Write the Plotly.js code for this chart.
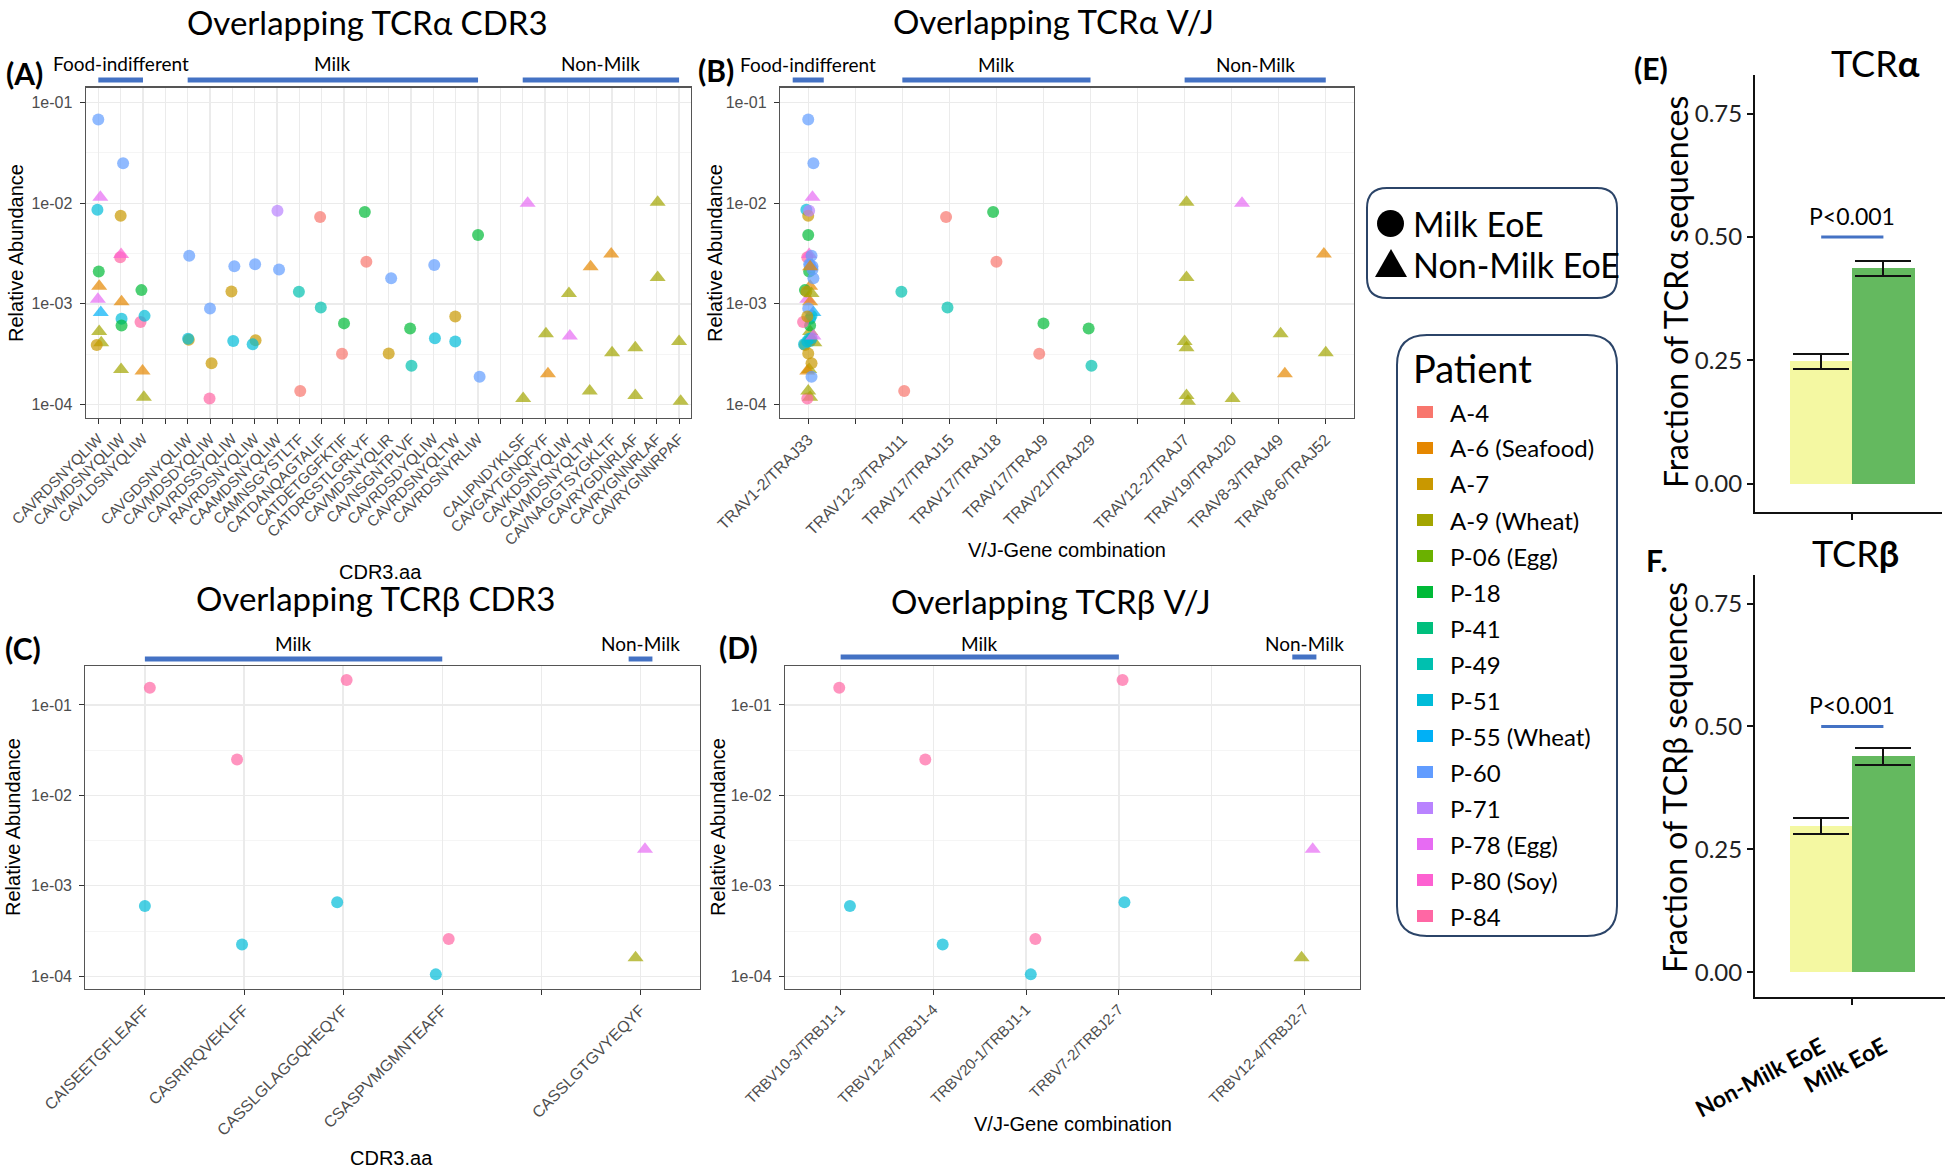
<!DOCTYPE html>
<html><head><meta charset="utf-8">
<script src="https://cdn.plot.ly/plotly-3.0.1.min.js"></script>
<style>html,body{margin:0;padding:0;background:#fff}</style>
</head><body><div id="chart" style="width:1950px;height:1171px"></div>
<script>
// ---------------- data ----------------
const patients = ["A-4","A-6 (Seafood)","A-7","A-9 (Wheat)","P-06 (Egg)","P-18","P-41","P-49","P-51","P-55 (Wheat)","P-60","P-71","P-78 (Egg)","P-80 (Soy)","P-84"];
const patientColors = ["#F8766D","#E58700","#C99800","#A3A500","#6BB100","#00BA38","#00BF7D","#00C0AF","#00BCD8","#00B0F6","#619CFF","#B983FF","#E76BF3","#FD61D1","#FF67A4"];
const patientMilk = [true,false,true,false,false,true,true,true,true,false,true,true,false,false,true];
const eoeTypes = ["Milk EoE","Non-Milk EoE"];

// TCR alpha CDR3 axis (null = empty slot between groups)
const cdr3Alpha = ["CAVRDSNYQLIW","CAVMDSNYQLIW","CAVLDSNYQLIW",null,"CAVGDSNYQLIW","CAVMDSDYQLIW","CAVRDSSYQLIW","RAVRDSNYQLIW","CAAMDSNYQLIW","CAMNSGYSTLTF","CATDANQAGTALIF","CATDETGGFKTIF","CATDRGSTLGRLYF","CAVMDSNYQLIR","CAVNSGNTPLVF","CAVRDSDYQLIW","CAVRDSNYQLTW","CAVRDSNYRLIW",null,"CALIPNDYKLSF","CAVGAYTGNQFYF","CAVKDSNYQLIW","CAVMDSNYQLTW","CAVNAGGTSYGKLTF","CAVRYGDNRLAF","CAVRYGNNRLAF","CAVRYGNNRPAF"];
const vjOfCdr3Alpha = ["TRAV1-2/TRAJ33","TRAV1-2/TRAJ33","TRAV1-2/TRAJ33",null,"TRAV1-2/TRAJ33","TRAV1-2/TRAJ33","TRAV1-2/TRAJ33","TRAV1-2/TRAJ33","TRAV1-2/TRAJ33","TRAV12-3/TRAJ11","TRAV17/TRAJ15","TRAV17/TRAJ9","TRAV17/TRAJ18","TRAV1-2/TRAJ33","TRAV21/TRAJ29","TRAV1-2/TRAJ33","TRAV1-2/TRAJ33","TRAV1-2/TRAJ33",null,"TRAV19/TRAJ20","TRAV8-3/TRAJ49","TRAV1-2/TRAJ33","TRAV1-2/TRAJ33","TRAV8-6/TRAJ52","TRAV12-2/TRAJ7","TRAV12-2/TRAJ7","TRAV12-2/TRAJ7"];
const vjAlpha = ["TRAV1-2/TRAJ33",null,"TRAV12-3/TRAJ11","TRAV17/TRAJ15","TRAV17/TRAJ18","TRAV17/TRAJ9","TRAV21/TRAJ29",null,"TRAV12-2/TRAJ7","TRAV19/TRAJ20","TRAV8-3/TRAJ49","TRAV8-6/TRAJ52"];

const groupNamesAlpha = ["Food-indifferent","Milk","Non-Milk"];
const groupFirstAlphaCdr3 = ["CAVRDSNYQLIW","CAVGDSNYQLIW","CALIPNDYKLSF"];
const groupLastAlphaCdr3  = ["CAVLDSNYQLIW","CAVRDSNYRLIW","CAVRYGNNRPAF"];
const groupFirstAlphaVJ = ["TRAV1-2/TRAJ33","TRAV12-3/TRAJ11","TRAV12-2/TRAJ7"];
const groupLastAlphaVJ  = ["TRAV1-2/TRAJ33","TRAV21/TRAJ29","TRAV8-6/TRAJ52"];

// TCR alpha points
const alphaSeq = ["CAVRDSNYQLIW","CAVRDSNYQLIW","CAVRDSNYQLIW","CAVRDSNYQLIW","CAVRDSNYQLIW","CAVRDSNYQLIW","CAVRDSNYQLIW","CAVRDSNYQLIW","CAVRDSNYQLIW","CAVRDSNYQLIW",
 "CAVMDSNYQLIW","CAVMDSNYQLIW","CAVMDSNYQLIW","CAVMDSNYQLIW","CAVMDSNYQLIW","CAVMDSNYQLIW","CAVMDSNYQLIW","CAVMDSNYQLIW",
 "CAVLDSNYQLIW","CAVLDSNYQLIW","CAVLDSNYQLIW","CAVLDSNYQLIW","CAVLDSNYQLIW",
 "CAVGDSNYQLIW","CAVGDSNYQLIW","CAVGDSNYQLIW","CAVMDSDYQLIW","CAVMDSDYQLIW","CAVMDSDYQLIW",
 "CAVRDSSYQLIW","CAVRDSSYQLIW","CAVRDSSYQLIW","RAVRDSNYQLIW","RAVRDSNYQLIW","RAVRDSNYQLIW",
 "CAAMDSNYQLIW","CAAMDSNYQLIW","CAMNSGYSTLTF","CAMNSGYSTLTF","CATDANQAGTALIF","CATDANQAGTALIF",
 "CATDETGGFKTIF","CATDETGGFKTIF","CATDRGSTLGRLYF","CATDRGSTLGRLYF","CAVMDSNYQLIR","CAVMDSNYQLIR",
 "CAVNSGNTPLVF","CAVNSGNTPLVF","CAVRDSDYQLIW","CAVRDSDYQLIW","CAVRDSNYQLTW","CAVRDSNYQLTW","CAVRDSNYRLIW","CAVRDSNYRLIW",
 "CALIPNDYKLSF","CALIPNDYKLSF","CAVGAYTGNQFYF","CAVGAYTGNQFYF","CAVKDSNYQLIW","CAVKDSNYQLIW","CAVMDSNYQLTW","CAVMDSNYQLTW",
 "CAVNAGGTSYGKLTF","CAVNAGGTSYGKLTF","CAVRYGDNRLAF","CAVRYGDNRLAF","CAVRYGNNRLAF","CAVRYGNNRLAF","CAVRYGNNRPAF","CAVRYGNNRPAF"];
const alphaPatient = ["P-60","P-78 (Egg)","P-51","P-18","A-6 (Seafood)","P-78 (Egg)","P-55 (Wheat)","A-9 (Wheat)","A-9 (Wheat)","A-7",
 "P-60","A-7","P-84","P-80 (Soy)","A-6 (Seafood)","P-51","P-18","A-9 (Wheat)",
 "P-18","P-84","P-51","A-6 (Seafood)","A-9 (Wheat)",
 "P-60","A-7","P-51","P-60","A-7","P-84",
 "P-60","A-7","P-51","P-60","A-7","P-51",
 "P-71","P-60","P-49","A-4","A-4","P-49",
 "P-18","A-4","P-18","A-4","P-60","A-7",
 "P-18","P-49","P-60","P-51","A-7","P-51","P-18","P-60",
 "P-78 (Egg)","A-9 (Wheat)","A-9 (Wheat)","A-6 (Seafood)","A-9 (Wheat)","P-78 (Egg)","A-6 (Seafood)","A-9 (Wheat)",
 "A-6 (Seafood)","A-9 (Wheat)","A-9 (Wheat)","A-9 (Wheat)","A-9 (Wheat)","A-9 (Wheat)","A-9 (Wheat)","A-9 (Wheat)"];
const alphaAbundance = [0.068,0.0115,0.0086,0.0021,0.0015,0.00111,0.00082,0.00053,0.00041,0.00039,
 0.025,0.0075,0.0029,0.0031,0.00105,0.00071,0.00061,0.000223,
 0.00137,0.00066,0.00076,0.000215,0.000118,
 0.0030,0.00044,0.00045,0.0009,0.000257,0.000115,
 0.00236,0.00133,0.000428,0.00247,0.000434,0.000396,
 0.0084,0.0022,0.00132,0.000136,0.0073,0.00092,
 0.00064,0.00032,0.0082,0.00262,0.0018,0.000322,
 0.000568,0.000243,0.00243,0.000455,0.000748,0.000422,0.00483,0.000189,
 0.0100,0.000115,0.000506,0.000202,0.00127,0.00048,0.00234,0.000136,
 0.00313,0.000327,0.000367,0.000123,0.0102,0.00183,0.000422,0.000108];
const alphaJitter = [0,0.09,-0.04,0.02,0.04,-0.02,0.11,0.04,0.13,-0.07,
 0.11,0,-0.02,0.02,0.04,0.04,0.04,0.02,
 -0.07,-0.11,0.07,-0.02,0.04,
 0.07,0.05,0.02,0,0.07,-0.02,
 0.09,-0.04,0.04,0.02,0.04,-0.09,
 0.02,0.09,-0.02,0.04,-0.07,-0.04,
 0,-0.09,-0.07,0,0.11,0,
 -0.04,0.02,0.04,0.07,-0.02,-0.02,0,0.07,
 0.22,0.02,0.04,0.13,0.07,0.11,0.04,0,
 -0.04,0,0.04,0.04,0.04,0.04,0,0.07];

// TCR beta
const cdr3Beta = ["CAISEETGFLEAFF","CASRIRQVEKLFF","CASSLGLAGGQHEQYF","CSASPVMGMNTEAFF",null,"CASSLGTGVYEQYF"];
const vjOfCdr3Beta = ["TRBV10-3/TRBJ1-1","TRBV12-4/TRBJ1-4","TRBV7-2/TRBJ2-7","TRBV20-1/TRBJ1-1",null,"TRBV12-4/TRBJ2-7"];
const vjBeta = ["TRBV10-3/TRBJ1-1","TRBV12-4/TRBJ1-4","TRBV20-1/TRBJ1-1","TRBV7-2/TRBJ2-7",null,"TRBV12-4/TRBJ2-7"];
const groupNamesBeta = ["Milk","Non-Milk"];
const groupFirstBetaCdr3 = ["CAISEETGFLEAFF","CASSLGTGVYEQYF"];
const groupLastBetaCdr3  = ["CSASPVMGMNTEAFF","CASSLGTGVYEQYF"];
const groupFirstBetaVJ = ["TRBV10-3/TRBJ1-1","TRBV12-4/TRBJ2-7"];
const groupLastBetaVJ  = ["TRBV7-2/TRBJ2-7","TRBV12-4/TRBJ2-7"];

const betaSeq = ["CAISEETGFLEAFF","CAISEETGFLEAFF","CASRIRQVEKLFF","CASRIRQVEKLFF","CASSLGLAGGQHEQYF","CASSLGLAGGQHEQYF","CSASPVMGMNTEAFF","CSASPVMGMNTEAFF","CASSLGTGVYEQYF","CASSLGTGVYEQYF"];
const betaPatient = ["P-84","P-51","P-84","P-51","P-84","P-51","P-84","P-51","P-78 (Egg)","A-9 (Wheat)"];
const betaAbundance = [0.155,0.0006,0.0249,0.000225,0.189,0.00066,0.000259,0.000105,0.00254,0.00016];
const betaJitterCdr3 = [0.05,0,-0.07,-0.02,0.035,-0.06,0.065,-0.065,0.045,-0.05];
const betaJitterVJ = [-0.015,0.1,-0.087,0.1,0.04,0.06,0.1,0.05,0.09,-0.03];

// Panels E / F
const eoeGroups = ["Non-Milk EoE","Milk EoE"];
const fractionAlpha = [0.248,0.437];
const errorAlpha = [0.015,0.015];
const fractionBeta = [0.298,0.439];
const errorBeta = [0.016,0.017];
const pValueLabel = "P<0.001";
const pValueLevel = 0.5;
const yTicksFraction = [0,0.25,0.5,0.75];
const yTicksLog = [1e-4,1e-3,1e-2,1e-1];

// ---------------- helpers ----------------
const W = 1950, H = 1171;
const fx = p => p / W;
const fy = p => 1 - p / H;
const LATO = "Lato, 'Open Sans', sans-serif";
const ARIAL = "'Liberation Sans', Arial, sans-serif";
const GROUPBLUE = "#4472C4";

function pointTrace(xs, pats, vals, xa, ya) {
  const ci = pats.map(p => patients.indexOf(p));
  return {
    type: 'scatter', mode: 'markers', x: xs, y: vals, xaxis: xa, yaxis: ya,
    marker: {
      color: ci.map(i => patientColors[i]),
      symbol: ci.map(i => patientMilk[i] ? 'circle' : 'triangle-up'),
      size: ci.map(i => patientMilk[i] ? 12 : 14),
      line: {width: 0}
    },
    hoverinfo: 'skip', showlegend: false, cliponaxis: false
  };
}

function catX(domain, cats, range, fsize) {
  return {
    domain: domain, range: range, tickmode: 'array',
    tickvals: cats.map((c, i) => i), ticktext: cats.map(c => c === null ? '' : c),
    tickangle: -45, tickfont: {family: ARIAL, size: fsize, color: '#4D4D4D'},
    ticks: 'outside', ticklen: 5, tickcolor: '#333', tickwidth: 1,
    showgrid: true, gridcolor: '#EBEBEB', gridwidth: 1.3, zeroline: false,
    showline: true, mirror: true, linecolor: '#555', linewidth: 1.2, fixedrange: true
  };
}
function logY(domain, range) {
  return {
    type: 'log', domain: domain, range: range, tickmode: 'array',
    tickvals: yTicksLog,
    ticktext: yTicksLog.map(v => v.toExponential(0).replace(/e-(\d)$/, 'e-0$1')),
    tickfont: {family: ARIAL, size: 16, color: '#4D4D4D'},
    ticks: 'outside', ticklen: 5, tickcolor: '#333', tickwidth: 1, ticklabelstandoff: 4,
    showgrid: true, gridcolor: '#EBEBEB', gridwidth: 1.3, zeroline: false,
    showline: true, mirror: true, linecolor: '#555', linewidth: 1.2,
    minor: {tickmode: 'array', tickvals: yTicksLog.map(v => v * Math.sqrt(10)), showgrid: true, gridcolor: '#F3F3F3', gridwidth: 0.8, ticks: ''},
    fixedrange: true
  };
}

const annotations = [];
const shapes = [];
function txt(text, xPx, yPx, size, extra) {
  const a = {text: text, x: fx(xPx), y: fy(yPx), xref: 'paper', yref: 'paper', showarrow: false,
    xanchor: 'center', yanchor: 'middle', font: {family: LATO, size: size, color: '#000'}};
  return Object.assign(a, extra || {});
}

function groups(cats, names, first, last, xref, labelYPx, barYPx, singlePad) {
  names.forEach((n, k) => {
    const i0 = cats.indexOf(first[k]), i1 = cats.indexOf(last[k]);
    const pad = (i0 === i1) ? singlePad : 0;
    shapes.push({type: 'line', xref: xref, yref: 'paper', x0: i0 - pad, x1: i1 + pad,
      y0: fy(barYPx), y1: fy(barYPx), line: {color: GROUPBLUE, width: 5}});
    annotations.push({text: n, xref: xref, yref: 'paper', x: (i0 + i1) / 2, y: fy(labelYPx),
      showarrow: false, xanchor: 'center', yanchor: 'middle', font: {family: LATO, size: 19, color: '#000'}});
  });
}

function rrect(x0, y0, x1, y1, r) {
  const X = fx, Y = fy;
  return `M ${X(x0 + r)},${Y(y0)} L ${X(x1 - r)},${Y(y0)} Q ${X(x1)},${Y(y0)} ${X(x1)},${Y(y0 + r)} ` +
    `L ${X(x1)},${Y(y1 - r)} Q ${X(x1)},${Y(y1)} ${X(x1 - r)},${Y(y1)} L ${X(x0 + r)},${Y(y1)} ` +
    `Q ${X(x0)},${Y(y1)} ${X(x0)},${Y(y1 - r)} L ${X(x0)},${Y(y0 + r)} Q ${X(x0)},${Y(y0)} ${X(x0 + r)},${Y(y0)} Z`;
}

// ---------------- traces ----------------
const traces = [];
traces.push(pointTrace(alphaSeq.map((s, i) => cdr3Alpha.indexOf(s) + alphaJitter[i]), alphaPatient, alphaAbundance, 'x', 'y'));
traces.push(pointTrace(alphaSeq.map((s, i) => vjAlpha.indexOf(vjOfCdr3Alpha[cdr3Alpha.indexOf(s)]) + alphaJitter[i]), alphaPatient, alphaAbundance, 'x2', 'y2'));
traces.push(pointTrace(betaSeq.map((s, i) => cdr3Beta.indexOf(s) + betaJitterCdr3[i]), betaPatient, betaAbundance, 'x3', 'y3'));
traces.push(pointTrace(betaSeq.map((s, i) => vjBeta.indexOf(vjOfCdr3Beta[cdr3Beta.indexOf(s)]) + betaJitterVJ[i]), betaPatient, betaAbundance, 'x4', 'y4'));

const barColors = ['#F4F8A2', '#64B95F'];
function barTrace(vals, errs, xa, ya) {
  return {type: 'bar', x: eoeGroups.map((g, i) => i), y: vals, width: 1, xaxis: xa, yaxis: ya,
    marker: {color: barColors, line: {width: 0}},
    error_y: {type: 'data', array: errs, visible: true, color: '#111', thickness: 2, width: 28},
    hoverinfo: 'skip', showlegend: false};
}
traces.push(barTrace(fractionAlpha, errorAlpha, 'x5', 'y5'));
traces.push(barTrace(fractionBeta, errorBeta, 'x6', 'y6'));

// ---------------- annotations / shapes ----------------
// panel titles
annotations.push(txt('Overlapping TCRα CDR3', 367, 22, 33));
annotations.push(txt('Overlapping TCRα V/J', 1053, 21, 33));
annotations.push(txt('Overlapping TCRβ CDR3', 375, 598, 33));
annotations.push(txt('Overlapping TCRβ V/J', 1051, 601, 33));
// panel letters
const bold = s => ({family: LATO, size: s, color: '#000', weight: 'bold'});
annotations.push(txt('(A)', 4, 73, 30, {xanchor: 'left', font: bold(30)}));
annotations.push(txt('(B)', 696, 70, 30, {xanchor: 'left', font: bold(30)}));
annotations.push(txt('(C)', 3, 648, 30, {xanchor: 'left', font: bold(30)}));
annotations.push(txt('(D)', 717, 647, 30, {xanchor: 'left', font: bold(30)}));
annotations.push(txt('(E)', 1632, 68, 30, {xanchor: 'left', font: bold(30)}));
annotations.push(txt('F.', 1644, 560, 30, {xanchor: 'left', font: bold(30)}));
// axis titles
const axFont = {family: ARIAL, size: 20, color: '#000'};
annotations.push(txt('Relative Abundance', 16, 253, 20, {textangle: -90, font: axFont}));
annotations.push(txt('Relative Abundance', 715, 253, 20, {textangle: -90, font: axFont}));
annotations.push(txt('Relative Abundance', 13, 827, 20, {textangle: -90, font: axFont}));
annotations.push(txt('Relative Abundance', 718, 827, 20, {textangle: -90, font: axFont}));
annotations.push(txt('CDR3.aa', 380, 572, 20, {font: axFont}));
annotations.push(txt('V/J-Gene combination', 1067, 550, 20, {font: axFont}));
annotations.push(txt('CDR3.aa', 391, 1158, 20, {font: axFont}));
annotations.push(txt('V/J-Gene combination', 1073, 1124, 20, {font: axFont}));
annotations.push(txt('Fraction of TCRα sequences', 1675, 292, 32, {textangle: -90}));
annotations.push(txt('Fraction of TCRβ sequences', 1675, 778, 32, {textangle: -90}));
annotations.push(txt('TCR<b>α</b>', 1875, 63, 36));
annotations.push(txt('TCR<b>β</b>', 1855, 553, 36));

// group bars
groups(cdr3Alpha, groupNamesAlpha, groupFirstAlphaCdr3, groupLastAlphaCdr3, 'x', 64, 80, 0.3);
groups(vjAlpha, groupNamesAlpha, groupFirstAlphaVJ, groupLastAlphaVJ, 'x2', 65, 80, 0.33);
groups(cdr3Beta, groupNamesBeta, groupFirstBetaCdr3, groupLastBetaCdr3, 'x3', 644, 659, 0.12);
groups(vjBeta, groupNamesBeta, groupFirstBetaVJ, groupLastBetaVJ, 'x4', 643, 657, 0.13);

// significance brackets
[['x5', 'y5'], ['x6', 'y6']].forEach(([xa, ya]) => {
  shapes.push({type: 'line', xref: xa, yref: ya, x0: 0, x1: 1, y0: pValueLevel, y1: pValueLevel, line: {color: GROUPBLUE, width: 3}});
  annotations.push({text: pValueLabel.replace('<', '&lt;'), xref: xa, yref: ya, x: 0.5, y: pValueLevel,
    yanchor: 'bottom', xanchor: 'center', yshift: 5, showarrow: false, font: {family: LATO, size: 23, color: '#000'}});
});

// shape legend
shapes.push({type: 'path', xref: 'paper', yref: 'paper', path: rrect(1367, 188, 1617, 298, 20), line: {color: '#2B4468', width: 2}, fillcolor: 'rgba(0,0,0,0)'});
shapes.push({type: 'circle', xref: 'paper', yref: 'paper', x0: fx(1377), x1: fx(1404), y0: fy(237), y1: fy(210), fillcolor: '#000', line: {width: 0}});
shapes.push({type: 'path', xref: 'paper', yref: 'paper', path: `M ${fx(1375)},${fy(277)} L ${fx(1407)},${fy(277)} L ${fx(1391)},${fy(249)} Z`, fillcolor: '#000', line: {width: 0}});
annotations.push(txt(eoeTypes[0], 1411, 224, 34, {xanchor: 'left'}));
annotations.push(txt(eoeTypes[1], 1411, 264, 34, {xanchor: 'left'}));

// patient legend
shapes.push({type: 'path', xref: 'paper', yref: 'paper', path: rrect(1397, 335, 1617, 936, 30), line: {color: '#2B4468', width: 2}, fillcolor: 'rgba(0,0,0,0)'});
annotations.push(txt('Patient', 1411, 368, 38, {xanchor: 'left'}));
patients.forEach((p, i) => {
  const yc = 412 + i * 36;
  shapes.push({type: 'rect', xref: 'paper', yref: 'paper', x0: fx(1417), x1: fx(1433), y0: fy(yc + 6), y1: fy(yc - 6), fillcolor: patientColors[i], line: {width: 0}});
  annotations.push(txt(p, 1448, yc, 24, {xanchor: 'left'}));
});

// ---------------- layout ----------------
const barX = (domain, range, labels) => ({
  domain: domain, range: range, tickmode: 'array', tickvals: eoeGroups.map((g, i) => i), ticktext: eoeGroups,
  showticklabels: labels, tickangle: -28, tickfont: {family: LATO, size: 23, color: '#000', weight: 'bold'},
  ticklabelstandoff: 26,
  ticks: '', showline: true, linecolor: '#111', linewidth: 2, showgrid: false, zeroline: false,
  minor: {tickmode: 'array', tickvals: [0.5], ticks: 'outside', ticklen: 6, tickwidth: 2, tickcolor: '#111', showgrid: false},
  fixedrange: true
});
const barY = (domain, range) => ({
  domain: domain, range: range, tickmode: 'array', tickvals: yTicksFraction, ticktext: yTicksFraction.map(v => v.toFixed(2)),
  tickfont: {family: LATO, size: 24, color: '#222'}, ticks: 'outside', ticklen: 6, tickwidth: 2, tickcolor: '#111',
  showline: true, linecolor: '#111', linewidth: 2, showgrid: false, zeroline: false, fixedrange: true
});

const layout = {
  width: W, height: H, margin: {l: 0, r: 0, t: 0, b: 0},
  paper_bgcolor: '#fff', plot_bgcolor: '#fff', showlegend: false, bargap: 0,
  font: {family: ARIAL},
  xaxis:  catX([fx(85.8), fx(690.7)], cdr3Alpha, [-0.56, 26.52], 15),
  yaxis:  logY([fy(418), fy(87.5)], [-4.134, -0.85]),
  xaxis2: Object.assign(catX([fx(780), fx(1354)], vjAlpha, [-0.6, 11.6], 16), {anchor: 'y2'}),
  yaxis2: Object.assign(logY([fy(418), fy(87.5)], [-4.134, -0.85]), {anchor: 'x2'}),
  xaxis3: Object.assign(catX([fx(85.4), fx(700)], cdr3Beta, [-0.6, 5.6], 16), {anchor: 'y3'}),
  yaxis3: Object.assign(logY([fy(988.5), fy(666)], [-4.135, -0.57]), {anchor: 'x3'}),
  xaxis4: Object.assign(catX([fx(785), fx(1360)], vjBeta, [-0.6, 5.6], 15), {anchor: 'y4'}),
  yaxis4: Object.assign(logY([fy(988.5), fy(666)], [-4.135, -0.57]), {anchor: 'x4'}),
  xaxis5: Object.assign(barX([fx(1755), fx(1942)], [-1.064, 1.942], false), {anchor: 'y5'}),
  yaxis5: Object.assign(barY([fy(511.6), fy(75)], [-0.056, 0.828]), {anchor: 'x5'}),
  xaxis6: Object.assign(barX([fx(1755), fx(1945)], [-1.064, 1.99], true), {anchor: 'y6'}),
  yaxis6: Object.assign(barY([fy(997), fy(575)], [-0.05, 0.808]), {anchor: 'x6'}),
  annotations: annotations,
  shapes: shapes
};

Plotly.newPlot('chart', traces, layout, {staticPlot: true, displayModeBar: false});
</script>
</body></html>
